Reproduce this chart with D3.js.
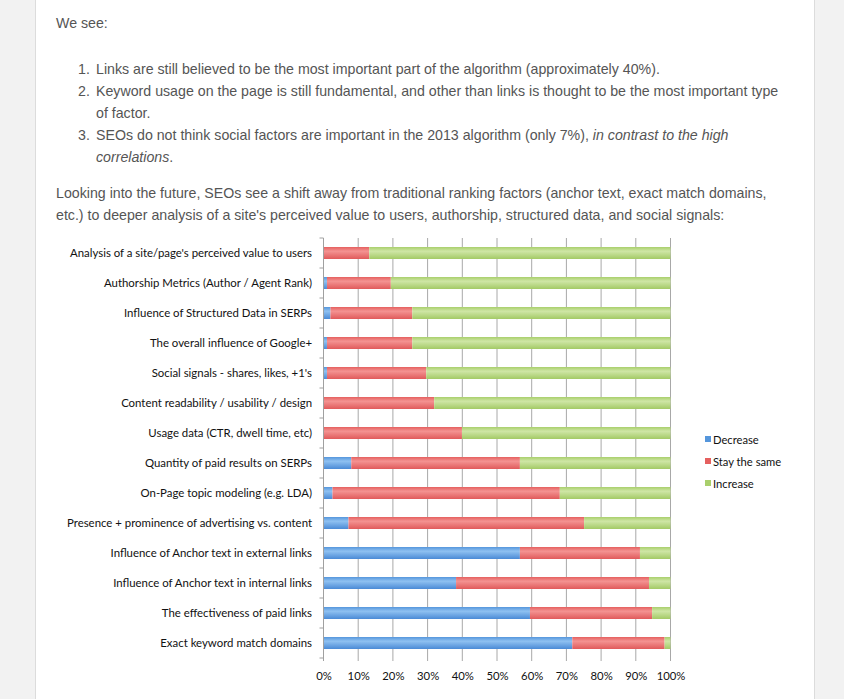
<!DOCTYPE html>
<html>
<head>
<meta charset="utf-8">
<script src="https://cdn.jsdelivr.net/npm/d3@7"></script>
<style>
  html, body { margin: 0; padding: 0; }
  body { width: 844px; height: 699px; background: #f2f2f2; position: relative; overflow: hidden; font-family: "Liberation Sans", Arial, sans-serif; }
  #page { position: absolute; left: 35px; top: 0; width: 778px; height: 699px; background: #fff; border-left: 1px solid #dcdcdc; border-right: 1px solid #dcdcdc; }
  .t { position: absolute; font-size: 14.2px; color: #555; white-space: nowrap; line-height: 22px; }
  .num { position: absolute; font-size: 14.2px; color: #555; white-space: nowrap; line-height: 22px; }
  svg { position: absolute; left: 0; top: 0; }
  .cat { font-family: Lato, "Open Sans", sans-serif; font-size: 11.4px; fill: #111; }
  .tick text { font-family: Lato, sans-serif; font-size: 11.3px; fill: #111; }
  .leg { font-family: Lato, sans-serif; font-size: 11.2px; fill: #111; }
</style>
</head>
<body>
<div id="page"></div>
<div class="t" style="left:56px; top:12px;">We see:</div>
<div class="num" style="left:78px; top:58px;">1.</div>
<div class="t" style="left:96px; top:58px;">Links are still believed to be the most important part of the algorithm (approximately 40%).</div>
<div class="num" style="left:78px; top:80px;">2.</div>
<div class="t" style="left:96px; top:80px;">Keyword usage on the page is still fundamental, and other than links is thought to be the most important type</div>
<div class="t" style="left:96px; top:102px;">of factor.</div>
<div class="num" style="left:78px; top:124px;">3.</div>
<div class="t" style="left:96px; top:124px;">SEOs do not think social factors are important in the 2013 algorithm (only 7%), <i>in contrast to the high</i></div>
<div class="t" style="left:96px; top:146px;"><i>correlations</i>.</div>
<div class="t" style="left:56px; top:182px;">Looking into the future, SEOs see a shift away from traditional ranking factors (anchor text, exact match domains,</div>
<div class="t" style="left:56px; top:204px;">etc.) to deeper analysis of a site's perceived value to users, authorship, structured data, and social signals:</div>
<svg id="chart" width="844" height="699"></svg>
<script>
const categories = [
  "Analysis of a site/page's perceived value to users",
  "Authorship Metrics (Author / Agent Rank)",
  "Influence of Structured Data in SERPs",
  "The overall influence of Google+",
  "Social signals - shares, likes, +1's",
  "Content readability / usability / design",
  "Usage data (CTR, dwell time, etc)",
  "Quantity of paid results on SERPs",
  "On-Page topic modeling (e.g. LDA)",
  "Presence + prominence of advertising vs. content",
  "Influence of Anchor text in external links",
  "Influence of Anchor text in internal links",
  "The effectiveness of paid links",
  "Exact keyword match domains"
];
const decrease = [0, 1, 2, 1, 1, 0, 0, 8, 2.6, 7.2, 56.6, 38.2, 59.5, 71.7];
const stay     = [13.2, 18.4, 23.6, 24.6, 28.6, 31.9, 39.9, 48.6, 65.5, 67.9, 34.6, 55.6, 35.2, 26.6];
const increase = [86.8, 80.6, 74.4, 74.4, 70.4, 68.1, 60.1, 43.4, 31.9, 24.9, 8.8, 6.2, 5.3, 1.7];
const seriesNames = ["Decrease", "Stay the same", "Increase"];
const xTicks = [0, 10, 20, 30, 40, 50, 60, 70, 80, 90, 100];

const svg = d3.select("#chart");
const x = d3.scaleLinear().domain([0, 100]).range([323.5, 670.5]);
const y = d3.scaleBand().domain(categories).range([238, 658]).paddingInner(0.6).paddingOuter(0.3);

const colors = [
  {id: "gBlue", top: "#5596dc", mid: "#8fc1f1", bot: "#4a8ad6"},
  {id: "gRed", top: "#e5605f", mid: "#f49392", bot: "#e05a5b"},
  {id: "gGreen", top: "#a9cf6c", mid: "#cfe6a6", bot: "#a3ca66"}
];
const defs = svg.append("defs");
colors.forEach(c => {
  const g = defs.append("linearGradient").attr("id", c.id).attr("x1", 0).attr("y1", 0).attr("x2", 0).attr("y2", 1);
  g.append("stop").attr("offset", "0%").attr("stop-color", c.top);
  g.append("stop").attr("offset", "35%").attr("stop-color", c.mid);
  g.append("stop").attr("offset", "100%").attr("stop-color", c.bot);
});

// gridlines
svg.append("g").selectAll("line").data(xTicks.slice(1)).join("line")
  .attr("x1", d => x(d)).attr("x2", d => x(d))
  .attr("y1", 238).attr("y2", 661)
  .attr("stroke", "#a8a8a8").attr("stroke-width", 1);

// stacked bars
const rows = categories.map((c, i) => ({cat: c, vals: [decrease[i], stay[i], increase[i]]}));
const stack = d3.stack().keys([0, 1, 2]).value((d, k) => d.vals[k]);
const stacked = stack(rows);
svg.append("g").selectAll("g").data(stacked).join("g")
  .attr("fill", (d, i) => `url(#${colors[i].id})`)
  .selectAll("rect").data(d => d).join("rect")
  .attr("x", d => x(d[0]))
  .attr("width", d => Math.max(0, x(Math.min(100, d[1])) - x(d[0])))
  .attr("y", d => y(d.data.cat))
  .attr("height", y.bandwidth());

// category axis line and ticks
svg.append("line").attr("x1", x(0)).attr("x2", x(0)).attr("y1", 238).attr("y2", 661).attr("stroke", "#a0a0a0");
const bounds = d3.range(categories.length + 1).map(i => 238 + i * y.step());
svg.append("g").selectAll("line").data(bounds).join("line")
  .attr("x1", x(0) - 4).attr("x2", x(0)).attr("y1", d => d).attr("y2", d => d)
  .attr("stroke", "#a0a0a0");

// category labels
svg.append("g").selectAll("text").data(categories).join("text")
  .attr("class", "cat")
  .attr("x", 312).attr("y", d => y(d) + y.bandwidth() / 2)
  .attr("dy", "0.35em").attr("text-anchor", "end").text(d => d);

// x axis
const xAxis = d3.axisBottom(x).tickValues(xTicks).tickFormat(d => d + "%").tickSize(0).tickPadding(0);
const gx = svg.append("g").attr("class", "tick").attr("transform", "translate(0,672)").call(xAxis);
gx.select(".domain").remove();
gx.selectAll("text").attr("dy", "0.71em").attr("y", 0);

// legend
const legY = [440, 462, 484];
const lg = svg.append("g").selectAll("g").data(seriesNames).join("g")
  .attr("transform", (d, i) => `translate(705,${legY[i]})`);
lg.append("rect").attr("x", 0).attr("y", -4).attr("width", 6).attr("height", 6)
  .attr("fill", (d, i) => colors[i].top);
lg.append("text").attr("class", "leg").attr("x", 8).attr("y", 0).attr("dy", "0.35em").text(d => d);
</script>
</body>
</html>
